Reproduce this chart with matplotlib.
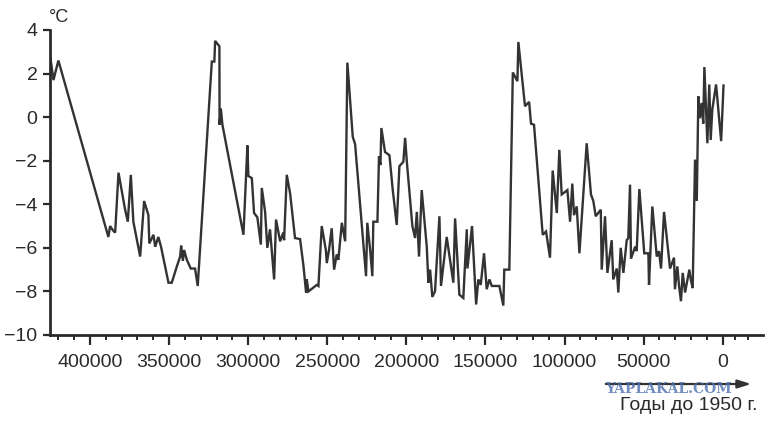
import numpy as np
import matplotlib.pyplot as plt
from matplotlib.ticker import FixedLocator

plt.rcParams['font.family'] = ['Liberation Sans', 'DejaVu Sans']

# years before 1950 and temperature anomaly (deg C)
years = [425000, 423100, 420000, 388400, 387300, 385500, 384100, 382000, 377800, 376100,
         374200, 372600, 368300, 365800, 363100, 362500, 359900, 358800, 356800, 355100,
         350400, 348300, 345100, 343000, 342400, 341300, 340500, 338800, 336300, 333600,
         331900, 323000, 321400, 320900, 318200, 318100, 317300, 316300, 303000, 300500,
         299900, 297700, 296300, 294200, 292000, 291400, 289300, 287900, 286200, 283600,
         282400, 279800, 277800, 277300, 275600, 273500, 270400, 267200, 265100, 263400,
         263000, 261900, 256600, 255600, 253500, 250900, 250300, 248900, 247200, 245700,
         244000, 243000, 240800, 238700, 237300, 233900, 232400, 225500, 224700, 222900,
         221500, 220900, 218300, 217300, 216400, 215800, 213500, 210700, 208600, 206100,
         204400, 201900, 200800, 199700, 196200, 194500, 193400, 192000, 190300, 187100,
         186100, 185000, 183600, 181900, 179100, 178100, 174500, 170300, 169200, 166500,
         164000, 161800, 161400, 158500, 157700, 155900, 154500, 153000, 150900, 149200,
         147500, 146000, 141200, 138700, 138100, 134900, 132700, 129800, 129200, 125000,
         122400, 121200, 119300, 113800, 111700, 109200, 107500, 104900, 103300, 101800,
         98200, 96500, 95100, 94000, 92300, 90600, 86000, 83300, 81800, 80300,
         77100, 76500, 74400, 72900, 70200, 69200, 67000, 66000, 64500, 62800,
         60700, 59700, 58600, 58000, 55400, 54400, 52700, 49600, 47000, 46600,
         44500, 41700, 40300, 39000, 37100, 33300, 30800, 30200, 28700, 27600,
         26400, 25300, 23800, 21100, 20200, 19000, 17500, 16400, 15400, 14400,
         13300, 12300, 11600, 10600, 9700, 8500, 7600, 6600, 4200, 1000,
         -500]
temps = [2.7, 1.7, 2.6, -5.5, -5.0, -5.2, -5.3, -2.55, -4.25, -4.8,
         -2.65, -4.8, -6.4, -3.85, -4.5, -5.8, -5.4, -5.95, -5.5, -5.95,
         -7.6, -7.6, -6.85, -6.4, -5.9, -6.6, -6.1, -6.55, -6.95, -6.95,
         -7.75, 2.55, 2.55, 3.5, 3.25, -0.35, 0.4, -0.35, -5.4, -1.3,
         -2.7, -2.8, -4.4, -4.6, -5.85, -3.25, -4.35, -6.0, -5.15, -7.45,
         -4.7, -5.7, -5.3, -5.65, -2.65, -3.5, -5.55, -5.6, -6.8, -8.05,
         -7.45, -8.0, -7.7, -7.75, -5.0, -6.1, -6.7, -6.1, -5.1, -7.0,
         -6.3, -6.55, -4.85, -5.7, 2.5, -0.9, -1.25, -7.3, -4.85, -6.1,
         -7.3, -4.8, -4.8, -1.8, -2.2, -0.5, -1.6, -1.75, -3.35, -4.95,
         -2.25, -2.05, -0.95, -2.05, -5.0, -5.55, -4.35, -6.4, -3.35, -5.95,
         -7.6, -7.0, -8.25, -8.0, -4.55, -7.75, -5.5, -7.6, -4.65, -8.15,
         -8.3, -5.15, -6.95, -5.0, -6.1, -8.6, -7.45, -7.7, -6.25, -7.9,
         -7.45, -7.75, -7.75, -8.65, -7.0, -7.0, 2.05, 1.65, 3.45, 0.5,
         0.7, -0.3, -0.35, -5.4, -5.25, -6.45, -2.45, -4.4, -1.5, -3.55,
         -3.35, -4.8, -3.05, -4.5, -4.1, -6.25, -1.2, -3.55, -3.85, -4.55,
         -4.25, -7.0, -4.55, -7.15, -5.65, -7.45, -6.95, -8.05, -6.0, -7.15,
         -5.65, -5.55, -3.1, -6.5, -5.95, -6.15, -3.3, -6.25, -6.25, -7.7,
         -4.1, -6.4, -6.15, -6.95, -4.35, -6.95, -6.45, -7.9, -6.85, -7.75,
         -8.45, -7.15, -8.05, -7.0, -7.45, -7.85, -1.95, -3.85, 0.95, -0.05,
         0.65, -0.3, 2.3, 0.5, -1.2, 1.5, -1.05, 0.35, 1.5, -1.1,
         1.45]

major_x = [400000, 350000, 300000, 250000, 200000, 150000, 100000, 50000, 0]
minor_x = list(range(420000, 0, -10000)) + [-8000, -16000]
y_ticks = [4, 2, 0, -2, -4, -6, -8, -10]

ink = '#2a2a2a'

fig = plt.figure(figsize=(7.68, 4.21), dpi=100)
ax = fig.add_axes([0.0651, 0.2043, 0.9284, 0.7245])
ax.plot(years, temps, color='#333333', lw=1.7, solid_joinstyle='miter')

ax.set_xlim(425300, -25470)
ax.set_ylim(-10, 4)
ax.xaxis.set_major_locator(FixedLocator(major_x))
ax.xaxis.set_minor_locator(FixedLocator(minor_x))
ax.set_yticks(y_ticks)
ax.set_xticklabels([str(v) for v in major_x])

for s in ['top', 'right']:
    ax.spines[s].set_visible(False)
for s in ['left', 'bottom']:
    ax.spines[s].set_linewidth(2.0)
    ax.spines[s].set_color(ink)

ax.tick_params(axis='x', which='major', direction='out', length=7, width=1.6,
               pad=7, labelsize=14, colors=ink)
ax.tick_params(axis='x', which='minor', direction='out', length=3.5, width=1.4, colors=ink)
ax.tick_params(axis='y', which='major', direction='out', length=5, width=1.6,
               pad=4, labelsize=14, colors=ink)

fig.text(49/768, 1 - 17/421, '°C', fontsize=13, color=ink, ha='left', va='center')

ax.annotate('', xy=(754/768, 1 - 384/421), xycoords='figure fraction',
            xytext=(603/768, 1 - 384/421), textcoords='figure fraction',
            arrowprops=dict(arrowstyle='-|>,head_length=0.8,head_width=0.25',
                            color='#333333', lw=1.6))
fig.text(605/768, 1 - 389/421, 'YAPLAKAL.COM', fontsize=10, fontweight='bold',
         family='DejaVu Serif', color='#4d6fb0', alpha=0.8, ha='left', va='center')
fig.text(757/768, 1 - 406/421, 'Годы до 1950 г.', fontsize=14, color=ink,
         ha='right', va='center')

fig.savefig('out.png', dpi=100, facecolor='white')
